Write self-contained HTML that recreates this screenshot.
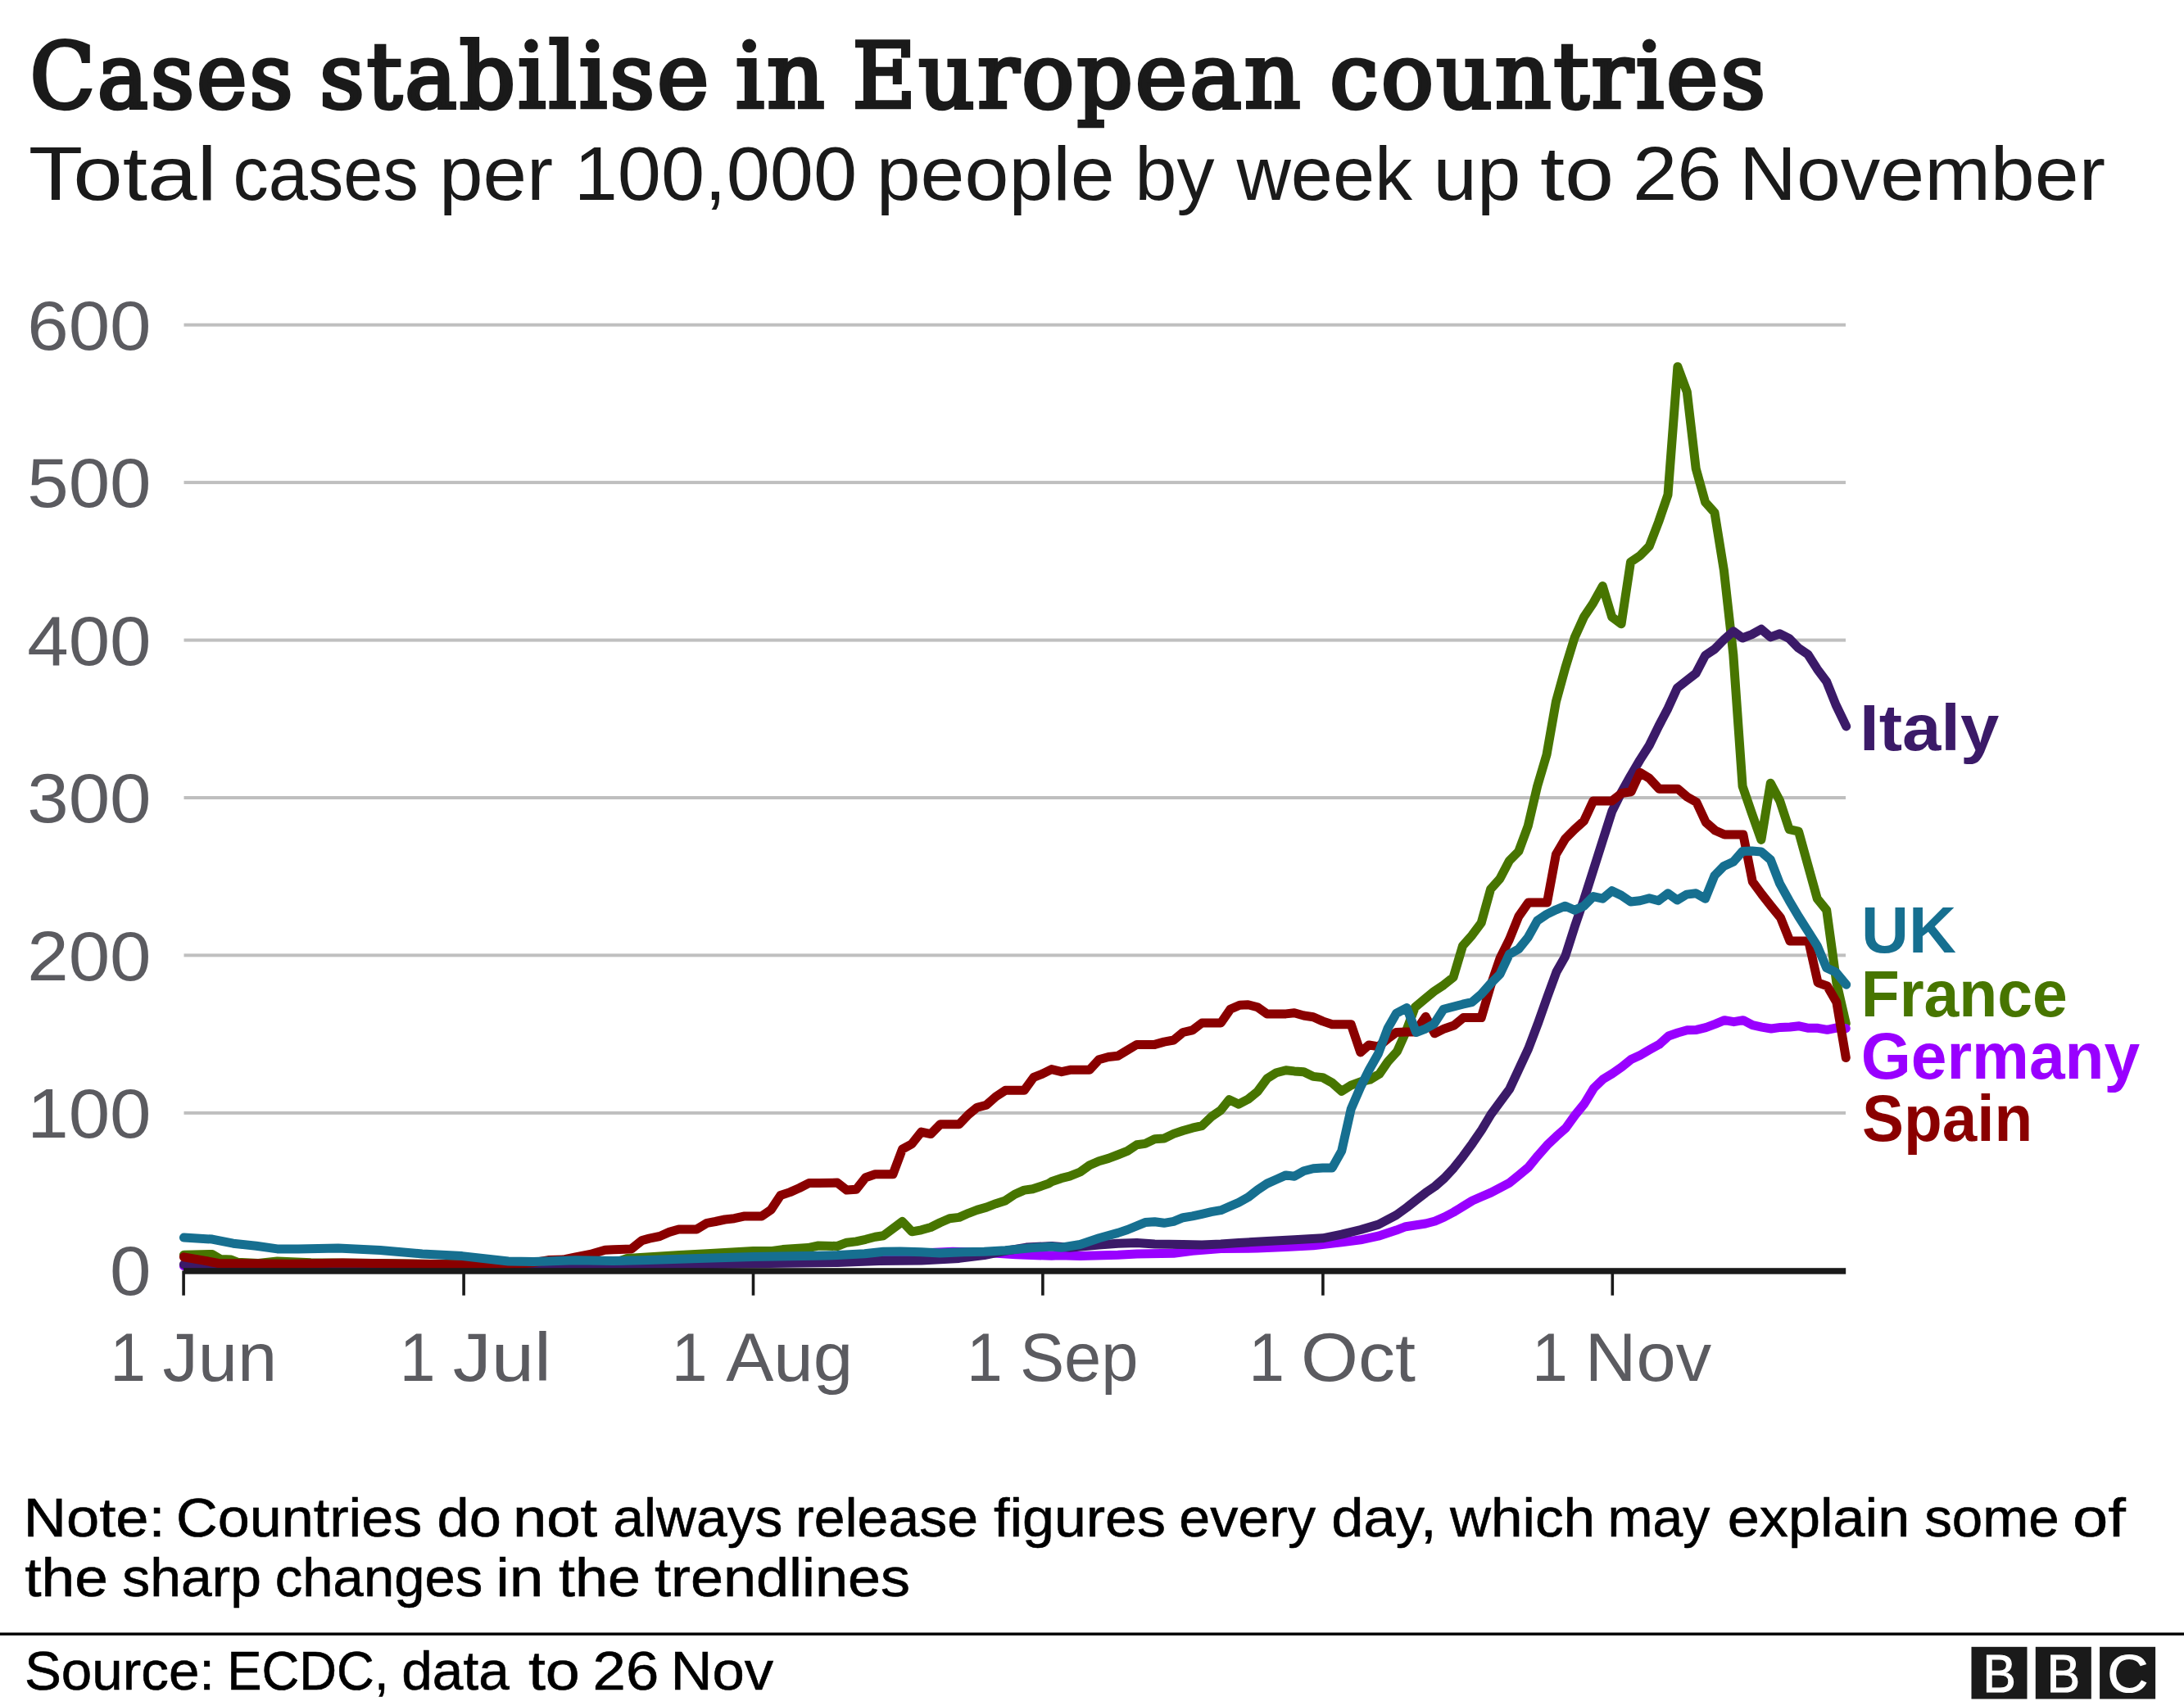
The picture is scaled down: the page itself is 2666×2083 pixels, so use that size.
<!DOCTYPE html>
<html lang="en"><head><meta charset="utf-8"><title>Cases stabilise in European countries</title>
<style>
html,body{margin:0;padding:0;background:#fff}
svg{display:block}
text{font-family:"Liberation Sans",sans-serif}
.title{font-family:"DejaVu Serif Condensed","DejaVu Serif","Liberation Serif",serif;font-weight:normal;fill:#1a1a1a;stroke:#1a1a1a;stroke-width:4.4;stroke-linejoin:miter;stroke-miterlimit:3}
.sub{fill:#1a1a1a}
.ax{fill:#5b5b60}
.lab{font-weight:bold}
.france{fill:#477500}.germany{fill:#9900ff}.italy{fill:#3b1a68}.spain{fill:#8a0000}.uk{fill:#166f90}
.note{fill:#000;stroke:#000;stroke-width:0.6}
.ln{fill:none;stroke-width:11;stroke-linecap:round;stroke-linejoin:round}
</style></head><body>
<svg width="2666" height="2083" viewBox="0 0 2666 2083">
<rect width="2666" height="2083" fill="#fff"/>
<text class="title" y="130.6" font-size="110" letter-spacing="3.2"><tspan x="36.8" textLength="324.1" lengthAdjust="spacingAndGlyphs">Cases</tspan> <tspan x="390.2" textLength="478.4" lengthAdjust="spacingAndGlyphs">stabilise</tspan> <tspan x="897.9" textLength="112.1" lengthAdjust="spacingAndGlyphs">in</tspan> <tspan x="1040.4" textLength="550.5" lengthAdjust="spacingAndGlyphs">European</tspan> <tspan x="1623.2" textLength="535.2" lengthAdjust="spacingAndGlyphs">countries</tspan></text>
<text class="sub" y="244.4" font-size="93"><tspan x="34.8" textLength="229.9" lengthAdjust="spacingAndGlyphs">Total</tspan> <tspan x="284.5" textLength="226.2" lengthAdjust="spacingAndGlyphs">cases</tspan> <tspan x="535.9" textLength="139.2" lengthAdjust="spacingAndGlyphs">per</tspan> <tspan x="700.7" textLength="345.4" lengthAdjust="spacingAndGlyphs">100,000</tspan> <tspan x="1069.7" textLength="291.1" lengthAdjust="spacingAndGlyphs">people</tspan> <tspan x="1385.2" textLength="97.3" lengthAdjust="spacingAndGlyphs">by</tspan> <tspan x="1509.4" textLength="214.7" lengthAdjust="spacingAndGlyphs">week</tspan> <tspan x="1749.6" textLength="106.8" lengthAdjust="spacingAndGlyphs">up</tspan> <tspan x="1880.0" textLength="90.2" lengthAdjust="spacingAndGlyphs">to</tspan> <tspan x="1992.9" textLength="108.7" lengthAdjust="spacingAndGlyphs">26</tspan> <tspan x="2123.0" textLength="446.9" lengthAdjust="spacingAndGlyphs">November</tspan></text>
<rect x="224.5" y="1356.9" width="2028.5" height="4" fill="#bfbfbf"/>
<rect x="224.5" y="1164.4" width="2028.5" height="4" fill="#bfbfbf"/>
<rect x="224.5" y="972.0" width="2028.5" height="4" fill="#bfbfbf"/>
<rect x="224.5" y="779.6" width="2028.5" height="4" fill="#bfbfbf"/>
<rect x="224.5" y="587.1" width="2028.5" height="4" fill="#bfbfbf"/>
<rect x="224.5" y="394.7" width="2028.5" height="4" fill="#bfbfbf"/>
<text class="ax" transform="translate(184.6,1581.4) scale(1.068,1)" font-size="85" text-anchor="end">0</text>
<text class="ax" transform="translate(184.6,1389.0) scale(1.068,1)" font-size="85" text-anchor="end">100</text>
<text class="ax" transform="translate(184.6,1196.5) scale(1.068,1)" font-size="85" text-anchor="end">200</text>
<text class="ax" transform="translate(184.6,1004.1) scale(1.068,1)" font-size="85" text-anchor="end">300</text>
<text class="ax" transform="translate(184.6,811.7) scale(1.068,1)" font-size="85" text-anchor="end">400</text>
<text class="ax" transform="translate(184.6,619.2) scale(1.068,1)" font-size="85" text-anchor="end">500</text>
<text class="ax" transform="translate(184.6,426.8) scale(1.068,1)" font-size="85" text-anchor="end">600</text>
<polyline class="ln" stroke="#477500" points="224.4,1532.2 259.0,1531.5 269.2,1537.4 282.1,1538.1 289.7,1541.2 315.4,1542.5 338.5,1539.9 379.5,1541.7 456.4,1542.5 559.0,1543.8 635.9,1543.3 748.7,1542.5 765.6,1536.4 829.7,1532.6 863.1,1530.8 919.5,1527.4 942.6,1527.4 955.4,1525.6 986.2,1523.6 999.0,1521.0 1022.1,1521.5 1033.6,1517.2 1045.1,1515.9 1056.7,1513.3 1068.2,1510.3 1078.5,1508.7 1101.5,1491.5 1113.1,1503.8 1124.6,1501.8 1136.2,1498.5 1147.7,1492.8 1159.2,1487.7 1170.8,1486.4 1182.3,1481.3 1192.6,1477.4 1204.1,1474.1 1215.6,1469.7 1227.2,1465.9 1238.7,1458.2 1250.3,1453.1 1260.5,1451.8 1272.1,1447.9 1280.0,1445.1 1283.6,1442.8 1295.4,1438.7 1305.6,1436.2 1318.5,1431.0 1330.0,1422.8 1341.5,1417.7 1353.1,1414.4 1364.6,1410.0 1376.2,1405.4 1387.7,1397.7 1397.9,1396.4 1409.5,1390.8 1421.0,1390.0 1432.6,1384.4 1444.1,1380.5 1455.6,1377.2 1467.2,1374.6 1478.7,1363.6 1490.3,1355.4 1500.5,1342.6 1512.1,1348.2 1523.6,1342.1 1535.1,1332.8 1546.7,1316.9 1558.2,1309.7 1569.7,1306.7 1580.0,1307.9 1591.5,1308.7 1603.1,1314.4 1614.6,1315.6 1626.2,1322.1 1637.7,1332.3 1649.2,1325.1 1660.8,1320.8 1672.3,1318.2 1683.8,1311.3 1694.1,1296.4 1705.6,1283.6 1715.9,1260.5 1727.4,1229.7 1739.0,1220.0 1750.5,1210.5 1762.1,1202.8 1774.1,1193.3 1785.5,1154.9 1796.8,1142.1 1808.2,1126.7 1819.6,1085.6 1831.0,1072.8 1842.4,1051.0 1853.8,1039.5 1865.2,1008.7 1876.6,960.0 1888.0,921.5 1899.4,856.7 1910.7,815.6 1922.1,778.5 1933.5,753.3 1944.9,736.2 1956.3,715.6 1967.7,753.3 1979.1,761.8 1990.5,686.2 2001.9,678.5 2013.3,666.9 2024.6,637.4 2036.0,604.1 2047.9,447.7 2059.3,478.5 2070.2,572.1 2081.6,613.1 2093.0,625.9 2104.4,696.4 2115.8,799.0 2127.1,960.0 2138.5,993.3 2149.9,1025.4 2161.3,956.2 2172.7,977.9 2184.1,1012.6 2195.5,1015.1 2206.9,1056.2 2218.3,1097.2 2229.7,1111.3 2241.9,1200.0 2253.3,1249.7"/>
<polyline class="ln" stroke="#9900ff" points="224.4,1545.8 266.7,1546.8 405.1,1546.8 494.9,1545.0 559.0,1546.3 748.7,1546.8 791.3,1545.4 996.4,1540.3 1073.3,1535.1 1124.6,1530.0 1163.1,1528.2 1201.5,1529.2 1240.0,1531.8 1283.6,1533.3 1292.8,1532.8 1318.5,1533.6 1364.6,1532.3 1387.7,1531.0 1432.6,1530.3 1455.6,1527.2 1490.3,1524.6 1535.1,1524.1 1569.7,1522.6 1603.1,1520.8 1637.7,1516.9 1660.8,1513.8 1682.6,1509.2 1704.4,1502.1 1715.9,1497.7 1740.3,1494.0 1751.7,1491.0 1763.1,1486.0 1774.5,1480.0 1785.9,1473.0 1797.3,1466.0 1808.7,1461.0 1820.1,1456.1 1831.5,1450.1 1842.9,1444.1 1854.3,1434.8 1865.7,1425.2 1877.1,1411.3 1888.5,1398.3 1899.9,1387.4 1911.3,1377.4 1922.7,1361.5 1934.1,1347.5 1945.5,1328.6 1956.9,1317.6 1968.3,1310.7 1979.7,1302.8 1991.1,1293.5 2002.5,1288.2 2013.9,1281.6 2025.3,1275.3 2036.7,1265.0 2048.1,1261.0 2059.5,1257.7 2070.9,1257.4 2082.3,1254.6 2093.7,1250.4 2105.1,1245.7 2116.5,1247.7 2127.9,1245.7 2139.3,1251.7 2150.7,1254.1 2162.1,1256.0 2173.5,1254.4 2184.9,1254.0 2196.3,1252.8 2207.7,1255.3 2219.1,1255.3 2230.5,1257.3 2241.9,1255.0 2253.3,1255.7"/>
<polyline class="ln" stroke="#3b1a68" points="224.4,1543.8 246.2,1545.0 266.7,1546.3 405.1,1546.8 559.0,1546.8 748.7,1546.8 791.3,1544.1 919.5,1542.8 1022.1,1541.5 1073.3,1539.5 1124.6,1539.0 1170.8,1536.4 1201.5,1532.6 1227.2,1527.4 1252.8,1523.1 1283.6,1521.5 1305.6,1523.3 1341.5,1520.0 1364.6,1518.2 1387.7,1517.4 1409.5,1519.0 1444.1,1519.5 1467.2,1520.0 1490.3,1519.0 1512.1,1517.4 1546.7,1515.6 1580.0,1513.8 1614.6,1511.8 1637.7,1507.2 1660.8,1501.5 1682.6,1495.1 1704.4,1483.6 1717.5,1474.1 1728.9,1465.2 1740.3,1456.3 1751.7,1448.5 1763.1,1438.5 1774.5,1426.2 1785.9,1411.8 1797.3,1396.2 1808.7,1379.5 1820.1,1360.5 1831.5,1344.9 1842.9,1329.4 1854.3,1304.9 1865.7,1280.4 1877.1,1250.3 1888.5,1218.0 1899.9,1186.8 1910.7,1167.7 1922.1,1131.8 1933.5,1098.5 1944.9,1062.6 1956.3,1026.7 1967.7,990.8 1979.1,967.7 1990.5,947.2 2001.9,927.9 2013.3,910.0 2024.6,886.9 2036.0,865.1 2047.4,840.0 2058.8,831.0 2070.2,822.1 2081.6,800.3 2093.0,792.6 2104.4,781.0 2115.8,770.8 2127.1,779.0 2138.5,774.6 2149.9,768.2 2161.3,777.9 2172.7,773.8 2184.1,779.7 2195.5,791.3 2206.9,799.0 2218.3,816.9 2229.7,832.3 2241.0,860.5 2253.7,886.9"/>
<polyline class="ln" stroke="#8a0000" points="224.4,1534.8 246.2,1538.6 266.7,1542.5 353.8,1543.3 417.9,1542.0 507.7,1543.3 584.6,1544.3 620.5,1543.8 651.3,1541.7 669.2,1538.6 687.2,1538.1 702.6,1534.8 720.5,1531.5 738.5,1526.3 748.7,1525.8 770.8,1524.9 783.6,1514.6 792.6,1512.1 805.4,1509.5 816.9,1504.4 828.5,1501.0 850.3,1501.0 863.1,1493.3 873.3,1491.5 884.9,1489.0 896.4,1487.7 907.9,1485.1 929.7,1485.1 941.3,1476.9 952.8,1459.5 964.4,1455.6 975.9,1450.5 987.4,1444.6 999.0,1444.6 1022.1,1444.1 1033.6,1453.1 1045.1,1452.3 1056.7,1437.7 1068.2,1433.8 1090.0,1433.8 1101.5,1403.1 1113.1,1396.7 1124.6,1382.1 1136.2,1384.6 1147.7,1372.8 1170.8,1372.8 1182.3,1360.8 1192.6,1352.3 1204.1,1349.2 1215.6,1339.0 1227.2,1331.3 1250.3,1331.3 1261.8,1315.4 1272.1,1311.3 1283.6,1305.6 1295.9,1308.7 1307.4,1306.2 1330.0,1306.2 1341.5,1293.8 1353.1,1290.5 1364.6,1289.2 1376.2,1282.3 1387.7,1275.4 1409.5,1275.4 1421.0,1272.1 1432.6,1270.0 1444.1,1260.5 1455.6,1257.9 1467.2,1249.0 1490.3,1249.0 1501.8,1232.3 1513.3,1227.2 1523.6,1226.7 1535.1,1229.7 1546.7,1237.9 1569.7,1237.9 1580.0,1236.7 1591.5,1240.0 1603.1,1241.8 1614.6,1246.9 1626.2,1250.8 1649.2,1250.8 1660.8,1284.9 1671.0,1275.9 1682.6,1277.9 1694.1,1268.2 1704.4,1260.5 1715.9,1260.0 1727.4,1260.0 1740.3,1241.3 1751.3,1261.8 1763.3,1255.9 1774.9,1252.1 1786.4,1242.6 1808.2,1242.6 1819.6,1203.6 1831.0,1170.3 1842.4,1147.2 1853.8,1119.0 1865.7,1102.0 1877.1,1102.0 1888.5,1102.0 1899.4,1043.3 1910.7,1024.1 1922.1,1012.6 1933.5,1002.3 1944.9,977.9 1967.7,977.9 1979.7,968.5 1991.1,966.8 2001.9,943.3 2013.3,950.3 2025.3,963.2 2036.7,963.2 2048.1,963.2 2059.5,973.0 2070.9,979.5 2082.3,1004.0 2093.7,1014.0 2105.1,1019.0 2116.5,1019.0 2127.9,1019.0 2139.3,1076.5 2150.7,1092.0 2162.1,1106.5 2173.5,1120.5 2184.9,1149.0 2196.3,1149.0 2207.7,1149.0 2219.1,1199.9 2230.5,1203.9 2241.9,1223.8 2253.3,1291.5"/>
<polyline class="ln" stroke="#166f90" points="224.4,1511.0 259.0,1513.1 284.6,1518.2 312.8,1521.3 338.5,1524.9 364.1,1525.1 412.8,1524.1 464.1,1526.4 515.4,1531.0 564.1,1533.6 620.5,1540.0 651.3,1540.5 702.6,1538.7 748.7,1539.5 791.3,1538.5 852.8,1536.4 919.5,1534.4 996.4,1533.3 1022.1,1532.6 1055.4,1530.8 1078.5,1528.2 1099.0,1527.9 1124.6,1528.7 1147.7,1530.0 1175.9,1528.7 1201.5,1528.2 1227.2,1526.7 1260.5,1523.6 1283.6,1522.1 1295.4,1523.3 1318.5,1519.5 1341.5,1511.8 1364.6,1505.4 1376.2,1501.5 1397.9,1492.6 1409.5,1491.8 1421.0,1493.3 1432.6,1491.3 1444.1,1486.7 1455.6,1484.9 1467.2,1482.3 1478.7,1479.7 1490.3,1477.7 1500.5,1473.3 1512.1,1468.2 1523.6,1461.8 1535.1,1452.8 1546.7,1445.1 1558.2,1440.0 1569.7,1434.9 1580.0,1436.2 1591.5,1429.7 1603.1,1426.7 1614.6,1425.9 1626.2,1425.9 1637.7,1405.4 1649.2,1354.1 1660.8,1327.2 1671.0,1306.7 1682.6,1286.2 1694.1,1255.4 1704.4,1237.4 1717.2,1230.5 1728.7,1260.5 1739.0,1256.7 1750.5,1250.3 1762.1,1232.3 1785.5,1226.2 1796.8,1223.6 1808.2,1213.8 1819.6,1201.0 1831.0,1189.5 1842.4,1165.1 1853.8,1158.7 1865.2,1144.6 1876.6,1124.1 1888.0,1116.4 1899.4,1110.8 1910.7,1106.2 1922.1,1111.3 1933.5,1106.2 1944.9,1094.6 1956.3,1097.2 1967.7,1087.7 1979.1,1093.3 1990.5,1101.0 2001.9,1099.7 2013.3,1096.7 2024.6,1099.7 2036.0,1090.8 2047.4,1099.0 2058.8,1092.1 2070.2,1090.8 2081.6,1097.2 2093.0,1069.0 2104.4,1057.4 2115.8,1052.3 2127.1,1039.5 2138.5,1039.0 2149.9,1040.0 2161.3,1049.7 2172.7,1079.2 2184.1,1099.7 2195.5,1119.0 2206.9,1136.9 2218.3,1154.9 2229.7,1181.8 2241.0,1186.9 2253.7,1202.3"/>
<rect x="224" y="1548.2" width="2029.2" height="7.5" fill="#1a1a1a"/>
<rect x="222.3" y="1551.5" width="3.6" height="30.2" fill="#1a1a1a"/>
<rect x="564.3" y="1551.5" width="3.6" height="30.2" fill="#1a1a1a"/>
<rect x="917.7" y="1551.5" width="3.6" height="30.2" fill="#1a1a1a"/>
<rect x="1271.1" y="1551.5" width="3.6" height="30.2" fill="#1a1a1a"/>
<rect x="1613.1" y="1551.5" width="3.6" height="30.2" fill="#1a1a1a"/>
<rect x="1966.5" y="1551.5" width="3.6" height="30.2" fill="#1a1a1a"/>
<text class="ax" y="1686" font-size="83"><tspan x="134.2" textLength="43.8" lengthAdjust="spacingAndGlyphs">1</tspan> <tspan x="198.4" textLength="139.9" lengthAdjust="spacingAndGlyphs">Jun</tspan></text>
<text class="ax" y="1686" font-size="83"><tspan x="487.7" textLength="43.8" lengthAdjust="spacingAndGlyphs">1</tspan> <tspan x="552.7" textLength="120.3" lengthAdjust="spacingAndGlyphs">Jul</tspan></text>
<text class="ax" y="1686" font-size="83"><tspan x="819.7" textLength="43.8" lengthAdjust="spacingAndGlyphs">1</tspan> <tspan x="886.2" textLength="155.1" lengthAdjust="spacingAndGlyphs">Aug</tspan></text>
<text class="ax" y="1686" font-size="83"><tspan x="1180.0" textLength="43.8" lengthAdjust="spacingAndGlyphs">1</tspan> <tspan x="1244.9" textLength="144.6" lengthAdjust="spacingAndGlyphs">Sep</tspan></text>
<text class="ax" y="1686" font-size="83"><tspan x="1524.3" textLength="43.8" lengthAdjust="spacingAndGlyphs">1</tspan> <tspan x="1588.0" textLength="139.9" lengthAdjust="spacingAndGlyphs">Oct</tspan></text>
<text class="ax" y="1686" font-size="83"><tspan x="1870.0" textLength="43.8" lengthAdjust="spacingAndGlyphs">1</tspan> <tspan x="1934.8" textLength="154.2" lengthAdjust="spacingAndGlyphs">Nov</tspan></text>
<text class="lab italy" y="915.5" font-size="79"><tspan x="2270.1" textLength="170.2" lengthAdjust="spacingAndGlyphs">Italy</tspan></text>
<text class="lab uk" y="1162.5" font-size="79"><tspan x="2272.1" textLength="116.0" lengthAdjust="spacingAndGlyphs">UK</tspan></text>
<text class="lab france" y="1240.6" font-size="79"><tspan x="2271.7" textLength="252.2" lengthAdjust="spacingAndGlyphs">France</tspan></text>
<text class="lab germany" y="1317" font-size="79"><tspan x="2271.8" textLength="340.4" lengthAdjust="spacingAndGlyphs">Germany</tspan></text>
<text class="lab spain" y="1393.3" font-size="79"><tspan x="2273.1" textLength="208.2" lengthAdjust="spacingAndGlyphs">Spain</tspan></text>
<text class="note" y="1876" font-size="66.5"><tspan x="28.8" textLength="172.9" lengthAdjust="spacingAndGlyphs">Note:</tspan> <tspan x="215.1" textLength="300.1" lengthAdjust="spacingAndGlyphs">Countries</tspan> <tspan x="533.5" textLength="78.4" lengthAdjust="spacingAndGlyphs">do</tspan> <tspan x="625.9" textLength="103.4" lengthAdjust="spacingAndGlyphs">not</tspan> <tspan x="748.4" textLength="207.1" lengthAdjust="spacingAndGlyphs">always</tspan> <tspan x="971.1" textLength="222.9" lengthAdjust="spacingAndGlyphs">release</tspan> <tspan x="1213.0" textLength="210.0" lengthAdjust="spacingAndGlyphs">figures</tspan> <tspan x="1439.3" textLength="166.7" lengthAdjust="spacingAndGlyphs">every</tspan> <tspan x="1625.3" textLength="128.2" lengthAdjust="spacingAndGlyphs">day,</tspan> <tspan x="1770.1" textLength="177.0" lengthAdjust="spacingAndGlyphs">which</tspan> <tspan x="1962.6" textLength="124.8" lengthAdjust="spacingAndGlyphs">may</tspan> <tspan x="2108.8" textLength="222.4" lengthAdjust="spacingAndGlyphs">explain</tspan> <tspan x="2349.2" textLength="164.5" lengthAdjust="spacingAndGlyphs">some</tspan> <tspan x="2530.1" textLength="64.8" lengthAdjust="spacingAndGlyphs">of</tspan></text>
<text class="note" y="1948.5" font-size="66.5"><tspan x="30.3" textLength="101.7" lengthAdjust="spacingAndGlyphs">the</tspan> <tspan x="149.3" textLength="169.6" lengthAdjust="spacingAndGlyphs">sharp</tspan> <tspan x="335.8" textLength="253.5" lengthAdjust="spacingAndGlyphs">changes</tspan> <tspan x="605.2" textLength="58.3" lengthAdjust="spacingAndGlyphs">in</tspan> <tspan x="682.0" textLength="99.9" lengthAdjust="spacingAndGlyphs">the</tspan> <tspan x="799.0" textLength="312.0" lengthAdjust="spacingAndGlyphs">trendlines</tspan></text>
<text class="note" y="2063.2" font-size="66.5"><tspan x="29.9" textLength="232.2" lengthAdjust="spacingAndGlyphs">Source:</tspan> <tspan x="277.3" textLength="197.2" lengthAdjust="spacingAndGlyphs">ECDC,</tspan> <tspan x="490.3" textLength="131.5" lengthAdjust="spacingAndGlyphs">data</tspan> <tspan x="644.9" textLength="62.9" lengthAdjust="spacingAndGlyphs">to</tspan> <tspan x="723.6" textLength="80.6" lengthAdjust="spacingAndGlyphs">26</tspan> <tspan x="818.4" textLength="125.6" lengthAdjust="spacingAndGlyphs">Nov</tspan></text>
<rect x="0" y="1993.4" width="2666" height="3.4" fill="#000"/>
<rect x="2406.5" y="2010.8" width="68" height="63.6" fill="#1a1a1a"/>
<text transform="translate(2440.7,2066.3) scale(0.93,1)" font-size="65" text-anchor="middle" fill="#fff" stroke="#fff" stroke-width="1.2">B</text>
<rect x="2484.8" y="2010.8" width="68" height="63.6" fill="#1a1a1a"/>
<text transform="translate(2519.0,2066.3) scale(0.93,1)" font-size="65" text-anchor="middle" fill="#fff" stroke="#fff" stroke-width="1.2">B</text>
<rect x="2563.1" y="2010.8" width="68" height="63.6" fill="#1a1a1a"/>
<text transform="translate(2597.3,2066.3) scale(1.06,1)" font-size="65" text-anchor="middle" fill="#fff" stroke="#fff" stroke-width="1.2">C</text>
</svg>
</body></html>
